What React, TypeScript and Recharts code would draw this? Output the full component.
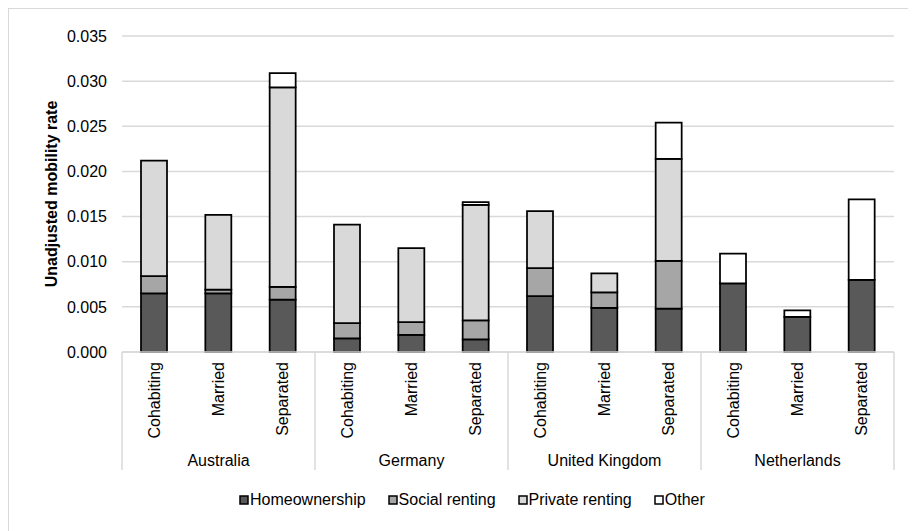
import { BarChart, Bar, XAxis, YAxis, CartesianGrid, Legend } from "recharts";

const countries = ["Australia", "Germany", "United Kingdom", "Netherlands"];
const statuses = ["Cohabiting", "Married", "Separated"];

// one value per bar, in order: country by country, Cohabiting / Married / Separated
const homeownership = [0.0065, 0.0065, 0.0058, 0.0015, 0.0019, 0.0014, 0.0062, 0.0049, 0.0048, 0.0076, 0.0039, 0.008];
const socialRenting = [0.0019, 0.0004, 0.0014, 0.0017, 0.0014, 0.0021, 0.0031, 0.0017, 0.0053, 0, 0, 0];
const privateRenting = [0.0128, 0.0083, 0.0221, 0.0109, 0.0082, 0.0128, 0.0063, 0.0021, 0.0113, 0, 0, 0];
const other = [0, 0, 0.0016, 0, 0, 0.0003, 0, 0, 0.004, 0.0033, 0.0007, 0.0089];

const yTicks = [0, 0.005, 0.01, 0.015, 0.02, 0.025, 0.03, 0.035];

const series = [
  { key: "home", name: "Homeownership", color: "#595959" },
  { key: "social", name: "Social renting", color: "#a6a6a6" },
  { key: "private", name: "Private renting", color: "#d9d9d9" },
  { key: "other", name: "Other", color: "#ffffff" },
];

const data = countries.flatMap((country, ci) =>
  statuses.map((status, si) => {
    const i = ci * 3 + si;
    return {
      status,
      country,
      home: homeownership[i],
      social: socialRenting[i],
      private: privateRenting[i],
      other: other[i],
    };
  })
);

const FONT = "'Liberation Sans', Arial, sans-serif";
const GRID = "#d9d9d9";
const FS = 16;

function CategoryTick(props: any) {
  const { x, y, payload, index } = props;
  const half = payload && payload.offset ? payload.offset : 32.2;
  const i = index ?? payload.index;
  return (
    <g>
      <text
        transform={`translate(${x},${y + 10}) rotate(-90)`}
        textAnchor="end"
        dominantBaseline="central"
        fontSize={FS}
        fill="#000"
        fontFamily={FONT}
      >
        {payload.value}
      </text>
      {i % 3 === 0 && (
        <line x1={x - half} y1={y} x2={x - half} y2={y + 118} stroke={GRID} strokeWidth={1.5} />
      )}
      {i === data.length - 1 && (
        <line x1={x + half} y1={y} x2={x + half} y2={y + 118} stroke={GRID} strokeWidth={1.5} />
      )}
      {i % 3 === 1 && (
        <text x={x} y={y + 108} textAnchor="middle" dominantBaseline="central" fontSize={FS} fill="#000" fontFamily={FONT}>
          {countries[Math.floor(i / 3)]}
        </text>
      )}
    </g>
  );
}

function LegendContent() {
  return (
    <div style={{ display: "flex", alignItems: "center", fontFamily: FONT, fontSize: FS, color: "#000", lineHeight: "20px" }}>
      {series.map((s) => (
        <div key={s.key} style={{ display: "flex", alignItems: "center", marginRight: 22 }}>
          <svg width={10} height={10} style={{ marginRight: 1 }}>
            <rect x={1} y={1} width={8} height={8} fill={s.color} stroke="#000" strokeWidth={1.5} />
          </svg>
          <span>{s.name}</span>
        </div>
      ))}
    </div>
  );
}

export default function App() {
  return (
    <div style={{ width: 916, height: 540, border: `1px solid ${GRID}`, boxSizing: "content-box", fontFamily: FONT, background: "#fff" }}>
      <BarChart width={908} height={523} data={data} margin={{ top: 27, right: 23, left: 0, bottom: 42 }} barSize={26}>
        <CartesianGrid vertical={false} stroke={GRID} strokeWidth={1.5} />
        <XAxis
          dataKey="status"
          axisLine={{ stroke: GRID, strokeWidth: 1.5 }}
          tickLine={false}
          tickSize={0}
          tickMargin={0}
          interval={0}
          height={118}
          tick={<CategoryTick />}
        />
        <YAxis
          width={113}
          domain={[0, 0.035]}
          ticks={yTicks}
          tickFormatter={(v: number) => v.toFixed(3)}
          axisLine={false}
          tickLine={false}
          tickSize={6}
          tickMargin={9}
          tick={{ fontSize: FS, fill: "#000", fontFamily: FONT }}
          label={(p: any) => {
            const vb = p.viewBox || { x: 0, y: 27, width: 113, height: 316 };
            const cx = vb.x + 42;
            const cy = vb.y + vb.height / 2;
            return (
              <text
                transform={`translate(${cx},${cy}) rotate(-90)`}
                textAnchor="middle"
                dominantBaseline="central"
                fontSize={FS}
                fontWeight="bold"
                fill="#000"
                fontFamily={FONT}
              >
                Unadjusted mobility rate
              </text>
            );
          }}
        />
        <Legend
          verticalAlign="bottom"
          content={<LegendContent />}
          wrapperStyle={{ left: 230, bottom: 22, width: 520 }}
        />
        {series.map((s) => (
          <Bar
            key={s.key}
            dataKey={s.key}
            name={s.name}
            stackId="a"
            fill={s.color}
            stroke="#000"
            strokeWidth={1.75}
            isAnimationActive={false}
          />
        ))}
      </BarChart>
    </div>
  );
}
